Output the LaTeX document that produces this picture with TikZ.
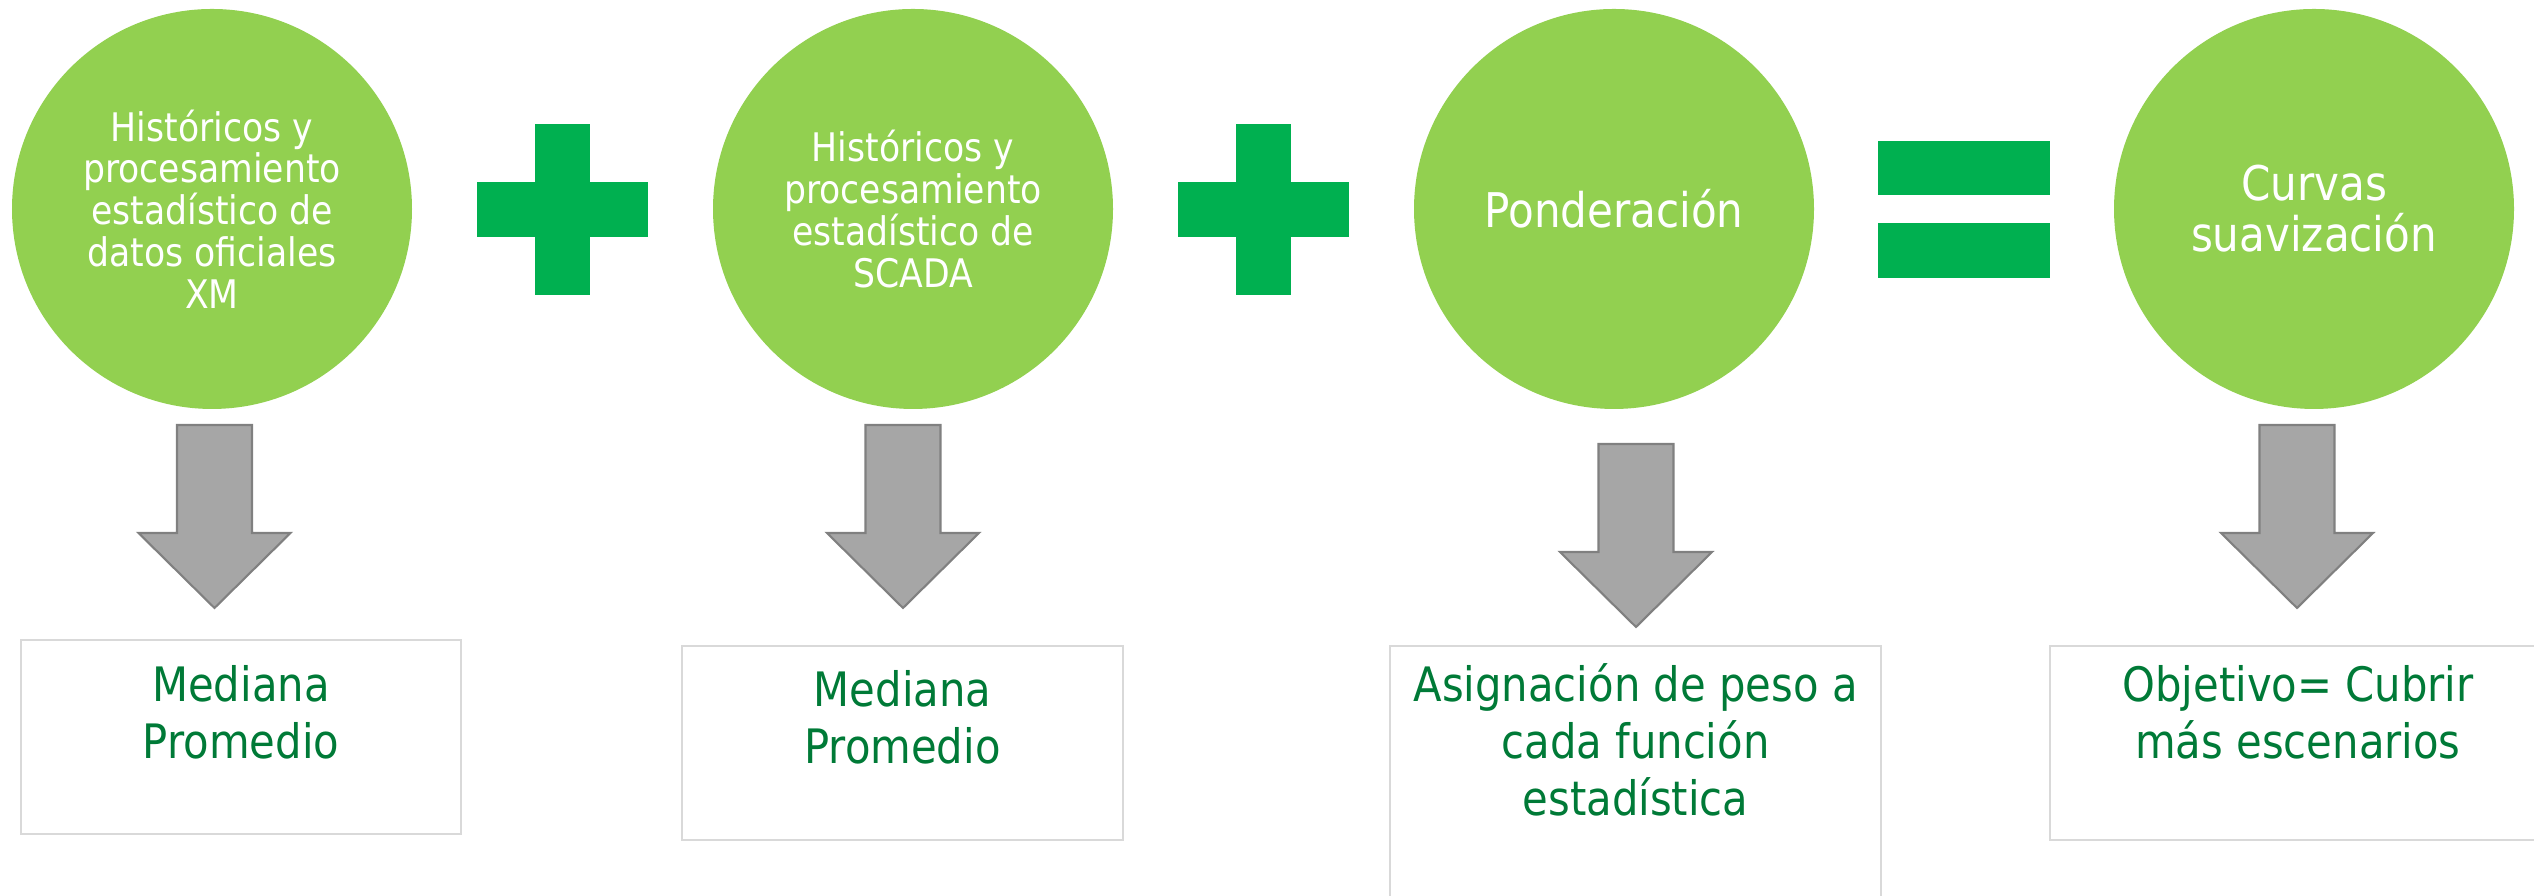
\documentclass[tikz,border=0pt]{standalone}
\usepackage{fontspec}
\setmainfont[FakeStretch=0.88]{DejaVu Sans}
\usetikzlibrary{calc}
\definecolor{circgreen}{RGB}{146,208,80}
\definecolor{signgreen}{RGB}{0,176,80}
\definecolor{textgreen}{RGB}{0,122,55}
\definecolor{arrowgray}{RGB}{166,166,166}
\definecolor{arrowedge}{RGB}{128,128,128}
\definecolor{boxgray}{RGB}{217,217,217}
\def\grayarrow(#1,#2){\draw[arrowgray!100, fill=arrowgray, draw=arrowedge, line width=0.6pt] ({#1-0.375},#2) -- ({#1+0.375},#2) -- ({#1+0.375},#2-1.08) -- ({#1+0.76},#2-1.08) -- (#1,#2-1.83) -- ({#1-0.76},#2-1.08) -- ({#1-0.375},#2-1.08) -- cycle;}

\begin{document}
\begin{tikzpicture}[
		bubble/.style={circle, fill=circgreen, minimum size=4cm, inner sep=0pt, text=white, align=center},
		smalltext/.style={font=\fontsize{11.2}{11.9}\selectfont},
		bigtext/.style={font=\fontsize{13.6}{14.5}\selectfont},
		boxtext/.style={text=textgreen, align=center, inner sep=0pt, font=\fontsize{13.5}{16.2}\selectfont},
		resbox/.style={draw=boxgray, line width=0.7pt}]
		%%%%% START %%%%%
		\useasboundingbox (0, 0) rectangle (25.34, 8.96);
		
		\node[bubble, smalltext] (hist1) at (2.12, 6.87) {Históricos y\\procesamiento\\estadístico de\\datos oficiales\\XM};
		\node[bubble, smalltext] (hist2) at (9.13, 6.87) {Históricos y\\procesamiento\\estadístico de\\SCADA};
		\node[bubble, bigtext] (pond) at (16.14, 6.87) {Ponderación};
		\node[bubble, bigtext] (curv) at (23.14, 6.87) {Curvas\\suavización};
		
		\fill[signgreen] (5.35, 7.72) rectangle (5.90, 6.01);
		\fill[signgreen] (4.77, 7.14) rectangle (6.48, 6.59);
		\fill[signgreen] (12.355, 7.72) rectangle (12.905, 6.01);
		\fill[signgreen] (11.775, 7.14) rectangle (13.485, 6.59);
		\fill[signgreen] (18.78, 7.55) rectangle (20.50, 7.01);
		\fill[signgreen] (18.78, 6.73) rectangle (20.50, 6.18);
		
		\grayarrow(2.145,4.71)
		\grayarrow(9.03,4.71)
		\grayarrow(16.36,4.52)
		\grayarrow(22.97,4.71)
		
		\draw[resbox] (0.21, 2.56) rectangle (4.61, 0.62);
		\draw[resbox] (6.82, 2.50) rectangle (11.23, 0.56);
		\draw[resbox] (13.90, 2.50) rectangle (18.81, -0.2);
		\draw[resbox] (20.50, 2.50) rectangle (25.46, 0.56);
		
		\node[boxtext] (med1) at (2.41, 1.84) {Mediana\\Promedio};
		\node[boxtext] (med2) at (9.025, 1.79) {Mediana\\Promedio};
		\node[boxtext] (peso) at (16.355, 1.56) {Asignación de peso a\\cada función\\estadística};
		\node[boxtext] (obj) at (22.98, 1.84) {Objetivo= Cubrir\\más escenarios};
		%%%%% END %%%%%
\end{tikzpicture}
\end{document}
